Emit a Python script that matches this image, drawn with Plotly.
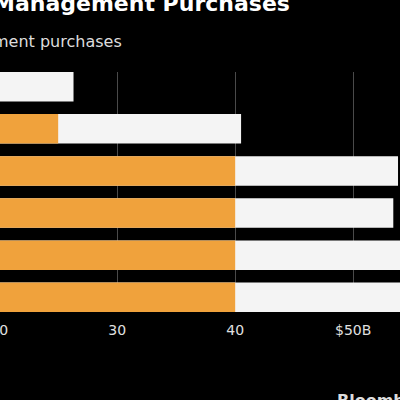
import plotly.graph_objects as go

categories = ["Row 1", "Row 2", "Row 3", "Row 4", "Row 5", "Row 6"]
total_purchases = [26.3, 40.5, 53.8, 53.4, 58.0, 60.0]
management_purchases = [12.0, 25.0, 40.0, 40.0, 40.0, 40.0]
tick_values = [20, 30, 40, 50]
tick_labels = ["20", "30", "40", "$50B"]

H0 = 72
PLOT_H = 240
FIG_W = 403
SHIFT = 2.5
PX_PER_UNIT = 11.8
X_START = 19.9

def py(p):
    return (H0 + PLOT_H - p) / PLOT_H

def px(p):
    return (p + SHIFT) / FIG_W

fig = go.Figure()
fig.add_trace(go.Bar(y=categories, x=total_purchases, orientation="h",
                     marker=dict(color="#F4F4F4", line=dict(width=0)),
                     name="Total", hoverinfo="x"))
fig.add_trace(go.Bar(y=categories, x=management_purchases, orientation="h",
                     marker=dict(color="#F0A23C", line=dict(width=0)),
                     name="Management", hoverinfo="x"))

fig.update_layout(
    width=FIG_W, height=400,
    margin=dict(l=0, r=0, t=H0, b=400 - H0 - PLOT_H, pad=0, autoexpand=False),
    paper_bgcolor="black", plot_bgcolor="black",
    barmode="overlay", bargap=0.3, showlegend=False,
    font=dict(family="DejaVu Sans", color="#dddddd"),
    xaxis=dict(range=[X_START, X_START + FIG_W / PX_PER_UNIT],
               tickvals=tick_values, ticktext=tick_labels,
               showgrid=True, gridcolor="#4a4a4a", gridwidth=1, zeroline=False,
               ticks="outside", ticklen=5, tickcolor="black",
               ticklabeloverflow="allow", automargin=False,
               tickfont=dict(size=14, color="#e0e0e0"), showline=False, fixedrange=True),
    yaxis=dict(categoryorder="array", categoryarray=categories,
               range=[5.35, -0.35], showticklabels=False, showgrid=False,
               zeroline=False, automargin=False, fixedrange=True),
    annotations=[
        dict(text="<b>Management Purchases</b>", xref="paper", yref="paper",
             x=px(291), y=py(4), xanchor="right", yanchor="middle",
             showarrow=False, font=dict(size=22, color="white", family="DejaVu Sans")),
        dict(text="ment purchases", xref="paper", yref="paper",
             x=px(123), y=py(41.5), xanchor="right", yanchor="middle",
             showarrow=False, font=dict(size=16, color="#dddddd", family="DejaVu Sans")),
        dict(text="<b>Bloomberg</b>", xref="paper", yref="paper",
             x=px(334), y=py(400), xanchor="left", yanchor="middle",
             showarrow=False, font=dict(size=16, color="#dddddd", family="DejaVu Sans")),
    ],
)

fig.write_html("out.html", config={"displayModeBar": False})

with open("out.html", "r", encoding="utf-8") as f:
    html = f.read()
css = ("<style>html,body{margin:0;padding:0;overflow:hidden;background:black}"
       ".plotly-graph-div{margin-left:-%spx}</style>" % SHIFT)
html = html.replace("</head>", css + "</head>", 1)
with open("out.html", "w", encoding="utf-8") as f:
    f.write(html)
